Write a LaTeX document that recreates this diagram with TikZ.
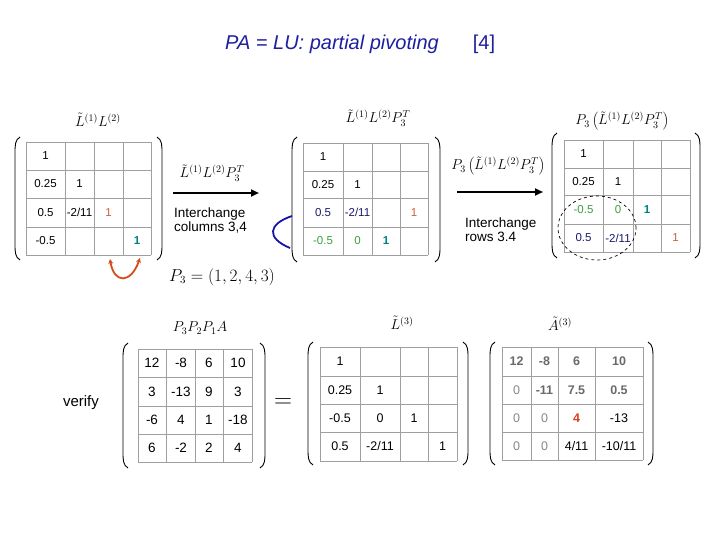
\documentclass[tikz,border=0pt]{standalone}
\usepackage{fontspec}
\setmainfont{Liberation Sans}
\usetikzlibrary{arrows.meta}
\definecolor{titleblue}{RGB}{30,30,160}
\definecolor{orng}{RGB}{200,95,55}
\definecolor{tealc}{RGB}{0,128,128}
\definecolor{greenc}{RGB}{60,160,60}
\definecolor{navyc}{RGB}{25,25,110}
\definecolor{curveblue}{RGB}{20,20,165}
\definecolor{curvered}{RGB}{215,75,25}
\definecolor{grayb}{RGB}{105,105,105}
\definecolor{grayl}{RGB}{135,135,135}
\definecolor{redc}{RGB}{215,65,25}
\newcommand\mygrid[6]{%
  \foreach \xx in {#1}{\draw[gridline] (\xx,#5) -- (\xx,#6);}%
  \foreach \yy in {#2}{\draw[gridline] (#3,\yy) -- (#4,\yy);}}
\newcommand\myparens[4]{%
  \draw[paren] (#1+5,#3) .. controls (#1,#3+3) and (#1,#3+8) .. (#1,#3+16) -- (#1,#4-16) .. controls (#1,#4-8) and (#1,#4-3) .. (#1+5,#4);
  \draw[paren] (#2-5,#3) .. controls (#2,#3+3) and (#2,#3+8) .. (#2,#3+16) -- (#2,#4-16) .. controls (#2,#4-8) and (#2,#4-3) .. (#2-5,#4);}
\tikzset{
  gridline/.style={draw=gray!75, line width=0.7pt},
  paren/.style={line width=0.9pt, black},
  ent/.style={inner sep=0pt, font=\fontsize{11.5}{12}\selectfont},
  entb/.style={inner sep=0pt, font=\fontsize{13.5}{14}\selectfont},
  entc/.style={inner sep=0pt, font=\fontsize{12.5}{13}\selectfont},
  lbl/.style={inner sep=0pt, font=\fontsize{14}{16}\selectfont},
  lbls/.style={inner sep=0pt, font=\fontsize{14}{16}\selectfont},
  note/.style={inner sep=0pt, anchor=north west, align=left, font=\fontsize{13.5}{13.5}\selectfont},
  bigarrow/.style={line width=2pt, -{Triangle[length=8pt,width=7pt]}},
  tealb/.style={text=tealc, font=\fontsize{11.5}{12}\selectfont\bfseries},
  grb/.style={text=grayb, font=\fontsize{12.5}{13}\selectfont\bfseries},
}
\begin{document}
\begin{tikzpicture}[x=1pt,y=-1pt]
\useasboundingbox (0,0) rectangle (720,540);
% title
\node[inner sep=0pt, text=titleblue, font=\fontsize{20}{24}\selectfont\itshape] (title) at (332,44) {PA = LU: partial pivoting};
\node[inner sep=0pt, text=titleblue, font=\fontsize{20}{24}\selectfont] (ref) at (484,44) {[4]};

% ---------- matrix 1 ----------
\node[lbl] (l1) at (98,120) {$\tilde{L}^{(1)}L^{(2)}$};
\mygrid{26,65,94,123,151}{142,170,198,227,255}{26}{151}{142}{255}
\myparens{15}{162}{137}{260}
\node[ent] (m1a) at (45.5,156) {1};
\node[ent] (m1b) at (45.5,184) {0.25};
\node[ent] (m1c) at (79.5,184) {1};
\node[ent] (m1d) at (45.5,212.5) {0.5};
\node[ent] (m1e) at (79.5,212.5) {-2/11};
\node[ent, text=orng] (m1f) at (108.5,212.5) {1};
\node[ent] (m1g) at (45.5,241) {-0.5};
\node[ent, tealb] (m1h) at (137,241) {1};
\coordinate (r1) at (110,259);
\coordinate (r2) at (140,258);
\draw[curvered, line width=1.8pt, {Stealth[length=5pt,width=5pt]}-{Stealth[length=5pt,width=5pt]}] (r1) .. controls (114,284) and (131,284) .. (r2);

% arrow 1
\coordinate (a1s) at (173,193);
\coordinate (a1e) at (259,193);
\draw[bigarrow] (a1s) -- (a1e);
\node[lbl] (al1) at (212,173) {$\tilde{L}^{(1)}L^{(2)}P_3^T$};
\node[note] (n1) at (174,208) {Interchange\\columns 3,4};
\node[inner sep=0pt, font=\fontsize{16}{18}\selectfont] (p3) at (222,277) {$P_3=\Bigl(1,2,4,3\Bigr)$};

% ---------- matrix 2 ----------
\node[lbl] (l2) at (378,118) {$\tilde{L}^{(1)}L^{(2)}P_3^T$};
\mygrid{303,343,372,400,428}{143,171,198,227,255}{303}{428}{143}{255}
\myparens{292}{440}{137}{262}
\node[ent] (m2a) at (323,157) {1};
\node[ent] (m2b) at (323,184.5) {0.25};
\node[ent] (m2c) at (357.5,184.5) {1};
\node[ent, text=navyc] (m2d) at (323,212.5) {0.5};
\node[ent, text=navyc] (m2e) at (357.5,212.5) {-2/11};
\node[ent, text=orng] (m2f) at (414,212.5) {1};
\node[ent, text=greenc] (m2g) at (323,241) {-0.5};
\node[ent, text=greenc] (m2h) at (357.5,241) {0};
\node[ent, tealb] (m2i) at (386,241) {1};
\coordinate (b1) at (292,216);
\coordinate (b2) at (290,248);
\draw[curveblue, line width=1.8pt] (b1) .. controls (268,224) and (266,238) .. (b2);

% arrow 2
\coordinate (a2s) at (457,192);
\coordinate (a2e) at (543,192);
\draw[bigarrow] (a2s) -- (a2e);
\node[lbl] (al2) at (498,166) {$P_3\left(\tilde{L}^{(1)}L^{(2)}P_3^T\right)$};
\node[note] (n2) at (465,218) {Interchange\\rows 3.4};

% ---------- matrix 3 ----------
\node[lbl] (l3) at (622,121) {$P_3\left(\tilde{L}^{(1)}L^{(2)}P_3^T\right)$};
\mygrid{564,603,633,661,690}{140,168,195,224,252}{564}{690}{140}{252}
\myparens{552}{700}{133}{258}
\node[ent] (m3a) at (583.5,154) {1};
\node[ent] (m3b) at (583.5,181.5) {0.25};
\node[ent] (m3c) at (618,181.5) {1};
\node[ent, text=greenc] (m3d) at (583.5,209.5) {-0.5};
\node[ent, text=greenc] (m3e) at (618,209.5) {0};
\node[ent, tealb] (m3f) at (647,209.5) {1};
\node[ent, text=navyc] (m3g) at (583.5,238) {0.5};
\node[ent, text=navyc] (m3h) at (618,238) {-2/11};
\node[ent, text=orng] (m3i) at (675.5,238) {1};
\draw[dashed, line width=0.7pt] (597,228) ellipse [x radius=39pt, y radius=32pt];

% ---------- bottom ----------
\node[inner sep=0pt, font=\fontsize{15}{16}\selectfont] (verify) at (81,403) {verify};
\node[lbls] (l4) at (200,328) {$P_3P_2P_1A$};
\mygrid{138,166.5,195,223.5,252}{349,377,406,434,462}{138}{252}{349}{462}
\myparens{123}{265}{343}{468}
\node[entb] (m4a) at (152,363) {12};
\node[entb] (m4b) at (181,363) {-8};
\node[entb] (m4c) at (209,363) {6};
\node[entb] (m4d) at (238,363) {10};
\node[entb] (m4e) at (152,391.5) {3};
\node[entb] (m4f) at (181,391.5) {-13};
\node[entb] (m4g) at (209,391.5) {9};
\node[entb] (m4h) at (238,391.5) {3};
\node[entb] (m4i) at (152,420) {-6};
\node[entb] (m4j) at (181,420) {4};
\node[entb] (m4k) at (209,420) {1};
\node[entb] (m4l) at (238,420) {-18};
\node[entb] (m4m) at (152,448) {6};
\node[entb] (m4n) at (181,448) {-2};
\node[entb] (m4o) at (209,448) {2};
\node[entb] (m4p) at (238,448) {4};

\node[inner sep=0pt, font=\fontsize{30}{30}\selectfont] (eq) at (283,403) {$=$};

\node[lbls] (l5) at (402,323) {$\tilde{L}^{(3)}$};
\mygrid{320,360,400,428,457}{347,376,404,432,461}{320}{457}{347}{461}
\myparens{308}{468}{342}{465}
\node[entc] (m5a) at (340,361.5) {1};
\node[entc] (m5b) at (340,390) {0.25};
\node[entc] (m5c) at (380,390) {1};
\node[entc] (m5d) at (340,418) {-0.5};
\node[entc] (m5e) at (380,418) {0};
\node[entc] (m5f) at (414,418) {1};
\node[entc] (m5g) at (340,446.5) {0.5};
\node[entc] (m5h) at (380,446.5) {-2/11};
\node[entc] (m5i) at (442.5,446.5) {1};

\node[lbls] (l6) at (560,324) {$\tilde{A}^{(3)}$};
\mygrid{502,531,558,595,643}{347,376,404,432,460}{502}{643}{347}{460}
\myparens{490}{653}{342}{465}
\node[entc, grb] (m6a) at (516.5,361.5) {12};
\node[entc, grb] (m6b) at (544.5,361.5) {-8};
\node[entc, grb] (m6c) at (576.5,361.5) {6};
\node[entc, grb] (m6d) at (619,361.5) {10};
\node[entc, text=grayl] (m6e) at (516.5,390) {0};
\node[entc, grb] (m6f) at (544.5,390) {-11};
\node[entc, grb] (m6g) at (576.5,390) {7.5};
\node[entc, grb] (m6h) at (619,390) {0.5};
\node[entc, text=grayl] (m6i) at (516.5,418) {0};
\node[entc, text=grayl] (m6j) at (544.5,418) {0};
\node[entc, text=redc, font=\fontsize{12.5}{13}\selectfont\bfseries] (m6k) at (576.5,418) {4};
\node[entc] (m6l) at (619,418) {-13};
\node[entc, text=grayl] (m6m) at (516.5,446) {0};
\node[entc, text=grayl] (m6n) at (544.5,446) {0};
\node[entc] (m6o) at (576.5,446) {4/11};
\node[entc] (m6p) at (619,446) {-10/11};
\end{tikzpicture}
\end{document}
